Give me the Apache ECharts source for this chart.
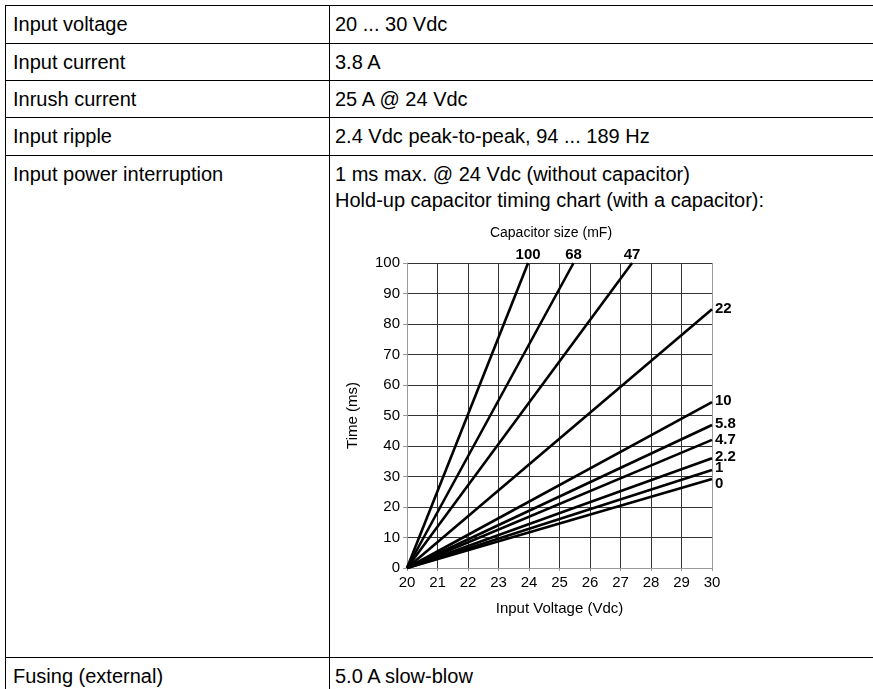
<!DOCTYPE html>
<html><head><meta charset="utf-8">
<script src="https://cdn.jsdelivr.net/npm/echarts@6/dist/echarts.min.js"></script>
<style>
html,body{margin:0;padding:0;background:#fff;width:873px;height:689px;overflow:hidden;font-family:'Liberation Sans',Arial,sans-serif;}
#table{position:absolute;left:0;top:0;width:873px;height:689px;}
.h{position:absolute;left:5px;width:868px;height:1px;background:#000;}
.v{position:absolute;top:5px;height:684px;width:1px;background:#000;}
.t{position:absolute;font-size:20px;line-height:22px;color:#000;white-space:nowrap;}
#chart{position:absolute;left:0;top:0;width:873px;height:689px;}
</style></head>
<body>
<div id="table"></div>
<div id="chart"></div>
<script>
// ---- table content ----
const rowLabels = ['Input voltage','Input current','Inrush current','Input ripple','Input power interruption','Fusing (external)'];
const rowValues = [
  ['20 ... 30 Vdc'],
  ['3.8 A'],
  ['25 A @ 24 Vdc'],
  ['2.4 Vdc peak-to-peak, 94 ... 189 Hz'],
  ['1 ms max. @ 24 Vdc (without capacitor)','Hold-up capacitor timing chart (with a capacitor):'],
  ['5.0 A slow-blow']
];

// ---- chart data ----
const chartTitle = 'Capacitor size (mF)';
const xAxisName = 'Input Voltage (Vdc)';
const yAxisName = 'Time (ms)';
const capacitorLabels = ['100','68','47','22','10','5.8','4.7','2.2','1','0'];
const startVoltage = [20,20,20,20,20,20,20,20,20,20];
const startTime    = [0,0,0,0,0,0,0,0,0,0];
const endVoltage   = [23.97,25.46,27.38,30,30,30,30,30,30,30];
const endTime      = [100,100,100,84.8,54.4,46.9,42.0,36.0,32.1,29.2];

// ---- layout (not data) ----
const rowTops = [5,43,80,117,155,657];
const labelOffsetY = [-1,-1,-1,-1,-1,-1,0,-1,-2,5];

const tbl = document.getElementById('table');
rowTops.forEach(y => {
  const d = document.createElement('div'); d.className='h'; d.style.top = y+'px'; tbl.appendChild(d);
});
[5,329].forEach(x => {
  const d = document.createElement('div'); d.className='v'; d.style.left = x+'px'; tbl.appendChild(d);
});
rowLabels.forEach((lab,i) => {
  const d = document.createElement('div'); d.className='t';
  d.style.left='13px'; d.style.top=(rowTops[i]+8)+'px'; d.textContent=lab; tbl.appendChild(d);
  rowValues[i].forEach((v,j) => {
    const e = document.createElement('div'); e.className='t';
    e.style.left='335px'; e.style.top=(rowTops[i]+8+j*26)+'px'; e.textContent=v; tbl.appendChild(e);
  });
});

const chart = echarts.init(document.getElementById('chart'), null, {renderer:'canvas'});
const font = "'Liberation Sans', Arial, sans-serif";
const xSplitColors = ['#999','#333','#333','#333','#333','#333','#333','#333','#333','#333','#999'];
const series = capacitorLabels.map((name,i) => {
  const top = endTime[i] >= 100;
  return {
    type:'line', name:name,
    data:[[startVoltage[i],startTime[i]],[endVoltage[i],endTime[i]]],
    showSymbol:false, symbol:'none', silent:true, animation:false,
    lineStyle:{color:'#000', width:2.6},
    endLabel:{
      show:true, formatter:name, color:'#000', fontWeight:'bold', fontSize:15, fontFamily:font,
      distance: top ? 0 : 3,
      align: top ? 'center' : 'left',
      verticalAlign: top ? 'bottom' : 'middle',
      offset: top ? [0,-1] : [0,labelOffsetY[i]]
    }
  };
});
chart.setOption({
  animation:false,
  backgroundColor:'transparent',
  title:{text:chartTitle, left:546, top:221, textAlign:'center',
    textStyle:{fontSize:14, fontWeight:'normal', color:'#000', fontFamily:font}},
  grid:{left:407, top:263, width:305, height:305, containLabel:false},
  xAxis:{type:'value', min:20, max:30, interval:1,
    name:xAxisName, nameLocation:'middle', nameGap:33,
    nameTextStyle:{fontSize:15, color:'#000', fontFamily:font},
    axisLine:{show:true, lineStyle:{color:'#999', width:1}},
    axisTick:{show:true, length:3, lineStyle:{color:'#999'}},
    axisLabel:{fontSize:15, color:'#000', margin:7, fontFamily:font},
    splitLine:{show:true, lineStyle:{color:xSplitColors, width:1}}},
  yAxis:{type:'value', min:0, max:100, interval:10,
    name:yAxisName, nameLocation:'middle', nameGap:47,
    nameTextStyle:{fontSize:15, color:'#000', fontFamily:font},
    axisLine:{show:true, lineStyle:{color:'#999', width:1}},
    axisTick:{show:true, length:4, lineStyle:{color:'#999'}},
    axisLabel:{fontSize:15, color:'#000', margin:7, fontFamily:font},
    splitLine:{show:true, lineStyle:{color:'#333', width:1}}},
  series:series
});
</script>
</body></html>
